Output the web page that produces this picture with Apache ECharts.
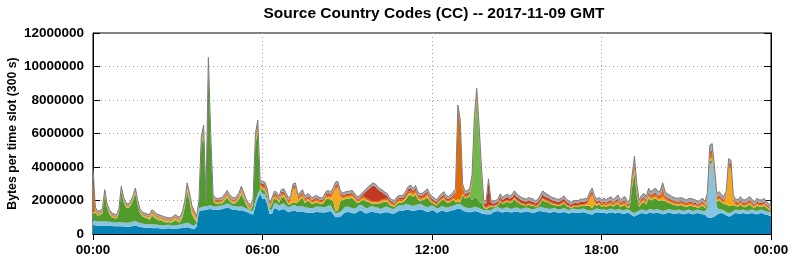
<!DOCTYPE html>
<html><head><meta charset="utf-8">
<script src="https://cdn.jsdelivr.net/npm/echarts@6/dist/echarts.min.js"></script>
<style>html,body{margin:0;padding:0;background:#fff}#c{width:792px;height:259px}</style>
</head><body><div id="c"></div>
<script>
// values in units of 10 000 bytes per 300 s slot, slot i = i*5 minutes (00:00 .. 24:00)
const UNIT = 10000;
const SLOTS_PER_TICK = 72; // 6 hours
const xTickLabels = ['00:00', '06:00', '12:00', '18:00', '00:00'];
const titleText = 'Source Country Codes (CC) -- 2017-11-09 GMT';
const yName = 'Bytes per time slot (300 s)';

const blue = [
52,52,50,50,49,50,50,49,48,47,46,47,
46,45,44,44,45,48,50,46,42,40,38,38,
37,36,35,36,34,33,32,33,34,33,30,32,
33,34,36,38,40,38,32,28,45,135,140,142,
145,148,150,145,143,145,147,150,153,157,153,147,
145,143,140,142,138,133,127,120,117,170,210,240,
210,210,180,120,120,155,150,140,145,150,140,130,
135,140,138,132,135,133,130,128,127,125,128,133,
130,130,128,130,135,138,118,100,102,105,115,128,
132,130,125,123,128,138,140,130,123,127,133,132,
128,128,122,125,130,130,126,122,123,132,138,137,
140,145,145,140,138,140,145,147,143,137,132,135,
144,137,127,132,140,137,132,135,140,142,147,152,
150,142,135,132,130,132,137,135,130,124,120,118,
118,118,130,135,138,132,128,133,135,130,128,133,
135,130,128,132,135,133,128,125,130,135,138,135,
132,130,127,130,133,128,125,128,132,127,123,125,
130,127,125,128,130,128,123,120,115,125,130,128,
125,128,122,125,130,127,123,128,125,120,123,127,
122,110,105,112,120,125,123,118,125,128,122,125,
127,123,118,120,125,127,123,120,122,125,120,118,
122,125,120,118,122,125,120,118,115,100,95,98,
105,115,122,125,120,112,105,108,118,125,122,120,
125,122,118,123,125,120,118,122,125,120,115,112,105];

const lightBlue = [
28,27,26,25,25,26,25,24,23,23,22,23,
24,24,23,23,24,26,27,25,23,22,22,21,
21,22,22,21,20,20,19,20,21,20,19,20,
21,22,24,26,28,25,22,20,22,18,20,22,
22,20,22,20,20,21,22,22,23,25,24,22,
22,21,23,25,22,20,20,20,22,28,30,28,
30,30,28,25,25,30,32,30,32,33,30,28,
30,32,33,30,32,33,30,30,28,28,30,32,
33,32,30,32,33,32,28,25,25,27,30,33,
32,30,30,28,30,33,35,32,30,30,32,33,
32,30,28,30,32,33,30,28,28,30,32,33,
33,35,33,30,30,32,33,33,30,28,28,30,
28,27,25,25,27,26,25,25,26,27,28,28,
27,26,25,25,24,25,26,26,25,24,24,25,
24,23,22,23,24,22,22,23,24,22,22,23,
23,22,22,22,23,22,21,21,22,23,24,23,
23,22,22,22,23,22,21,22,23,22,21,21,
22,21,21,22,22,22,21,22,24,23,22,22,
22,21,20,21,22,21,20,21,21,20,21,21,
20,20,20,21,21,22,21,20,22,22,21,21,
21,20,20,20,21,21,20,20,20,21,20,20,
20,21,20,19,20,21,20,19,20,60,320,330,
220,45,25,22,21,20,20,20,20,22,21,20,
21,20,20,21,21,20,20,21,21,20,20,19,18];

const green = [
35,49,33,38,49,158,78,45,29,26,23,53,
184,123,91,86,99,125,166,101,58,42,38,33,
24,46,41,29,27,24,22,14,11,11,23,27,
17,12,38,94,188,132,64,42,6,11,370,410,
13,800,374,34,16,11,10,12,23,33,17,15,
12,25,41,71,49,21,5,3,35,339,365,6,
22,18,16,8,33,26,24,15,41,38,31,17,
13,16,12,26,39,50,24,40,38,24,25,23,
19,15,25,46,42,35,51,13,11,62,57,46,
48,52,60,51,28,16,23,41,42,34,18,13,
21,21,34,35,29,28,18,16,10,15,17,16,
18,27,50,63,53,63,28,16,28,42,57,31,
14,14,16,29,32,45,32,26,26,36,14,11,
11,65,52,59,69,45,56,59,36,39,13,4,
15,20,7,6,6,39,27,31,34,33,40,51,
35,31,24,17,10,19,20,22,7,7,20,45,
38,37,34,23,16,19,23,22,28,18,17,6,
9,14,14,17,14,17,23,26,13,29,16,27,
15,18,20,22,21,14,30,31,14,28,29,6,
18,150,238,97,19,35,47,38,67,50,65,67,
50,57,60,57,42,35,34,33,26,24,32,28,
19,20,28,26,19,8,22,32,19,29,16,13,
4,33,54,41,37,45,42,39,35,19,19,36,
16,18,31,31,16,14,31,19,14,29,21,15,10];

const lightGreen = [
0,2,3,3,3,3,3,3,2,2,2,3,
3,3,3,3,3,4,4,3,3,3,3,4,
7,9,8,8,8,7,7,8,8,7,7,8,
8,7,8,9,10,9,8,6,5,6,10,25,
5,20,10,6,6,7,6,6,7,8,7,6,
6,6,7,8,7,6,6,5,6,10,10,6,
3,3,2,2,2,2,2,2,3,3,2,2,
2,2,2,2,2,3,2,2,2,2,2,2,
2,2,2,3,3,2,2,2,2,2,2,2,
2,2,2,2,2,2,2,2,2,2,2,2,
2,2,2,2,2,2,2,2,2,2,2,2,
2,3,3,3,2,3,2,2,2,2,3,2,
1,1,1,1,1,1,1,1,1,1,1,2,
2,1,1,2,5,100,420,580,400,170,5,2,
1,1,1,1,1,1,1,1,1,1,1,1,
1,1,1,1,1,1,1,1,1,1,1,1,
1,1,1,1,1,1,1,1,1,1,1,1,
1,1,1,1,1,1,1,1,3,1,1,1,
1,1,1,1,1,1,1,1,1,1,1,1,
1,3,5,3,1,1,1,1,1,1,1,1,
1,1,3,1,1,1,1,1,1,1,1,1,
1,1,1,1,1,1,1,1,1,1,5,5,
1,1,1,1,1,1,1,1,1,1,1,1,
1,1,1,1,1,1,1,1,1,1,1,1,1];

const amber = [
20,6,5,6,6,7,6,6,5,5,5,6,
7,6,6,6,6,7,7,6,6,5,6,6,
8,10,9,8,8,8,7,7,7,7,8,9,
8,7,9,10,12,12,14,16,8,6,8,10,
5,10,8,6,6,6,6,6,7,8,7,6,
6,6,7,9,7,6,5,5,6,10,12,8,
10,10,9,6,7,9,9,8,9,10,9,8,
20,75,85,15,9,10,8,8,8,7,8,8,
7,7,8,9,10,9,40,130,135,30,9,9,
9,9,10,9,8,7,8,9,8,6,6,6,
6,6,6,7,8,8,7,7,7,8,8,8,
8,10,10,11,9,10,8,8,8,9,10,8,
5,4,4,5,5,6,5,5,5,6,8,15,
12,6,5,5,5,6,10,12,10,6,4,4,
4,3,3,3,4,5,4,4,4,4,4,5,
4,4,4,4,3,4,4,3,3,4,4,5,
5,4,4,4,4,3,3,4,4,4,3,3,
3,4,4,4,5,6,10,40,75,15,5,5,
7,8,7,8,8,7,8,9,7,8,8,6,
7,10,12,10,7,8,9,8,10,9,9,10,
9,10,20,9,8,8,7,7,7,7,7,7,
7,7,7,7,7,6,7,7,6,10,12,12,
10,8,9,8,8,40,230,220,20,8,7,8,
7,7,7,8,7,6,7,7,7,7,6,6,5];

const orange = [
230,8,5,5,5,6,5,5,5,4,4,5,
6,5,5,5,5,6,6,5,5,5,5,5,
5,6,6,5,5,5,5,5,5,5,5,6,
5,5,6,7,10,12,14,14,6,8,12,15,
6,25,15,8,8,7,8,8,9,10,9,8,
8,8,9,11,9,8,7,7,8,20,25,12,
15,14,12,8,9,11,11,10,12,12,11,10,
10,12,12,10,11,12,10,10,10,9,10,10,
9,9,10,11,12,11,12,14,14,11,10,10,
10,10,11,10,9,9,10,11,10,8,8,8,
8,8,8,9,10,10,9,9,9,10,10,10,
10,12,13,13,11,12,10,10,10,11,12,10,
8,7,7,8,8,9,8,8,8,9,40,520,
440,30,9,9,9,10,15,18,14,9,7,7,
10,6,6,6,7,8,7,7,7,7,7,8,
7,7,7,6,6,7,7,6,6,7,8,9,
8,8,7,7,7,6,6,7,7,7,6,6,
6,6,6,7,7,7,8,10,12,8,7,7,
9,10,9,10,11,9,10,12,9,10,11,8,
9,20,40,20,9,10,11,10,13,11,12,13,
11,12,40,11,10,10,9,9,9,9,9,9,
8,9,9,9,8,8,9,9,8,15,30,30,
20,10,11,10,9,12,15,15,9,9,8,10,
9,9,9,10,9,8,9,9,9,9,8,7,6];

const red = [
15,4,3,3,3,3,3,3,3,3,3,3,
3,3,3,3,3,3,3,3,3,3,3,3,
3,4,3,3,3,3,3,3,3,3,3,3,
3,3,3,4,5,5,5,4,3,4,6,8,
4,12,6,4,4,4,4,4,5,5,5,4,
4,4,5,5,5,4,4,4,4,8,10,6,
10,10,9,6,7,8,8,7,9,9,8,7,
7,8,8,7,8,9,8,8,8,7,8,8,
7,7,8,9,10,9,9,10,10,9,8,8,
8,8,9,8,7,7,8,15,40,60,80,95,
85,70,55,40,25,15,10,8,8,9,9,10,
10,12,14,15,12,14,10,10,10,11,12,10,
10,10,9,10,11,12,11,10,11,12,14,20,
18,13,12,12,12,14,16,18,15,12,12,20,
140,20,12,12,13,16,14,15,16,15,16,18,
17,16,15,15,14,15,15,14,13,14,16,18,
17,16,15,14,14,13,13,14,15,13,12,11,
12,12,12,13,13,13,13,14,15,13,12,12,
8,8,8,8,9,8,8,9,8,8,9,7,
8,12,15,12,8,9,9,8,10,9,10,10,
9,10,15,9,9,9,8,8,8,8,8,8,
8,8,8,8,8,7,8,8,7,10,12,12,
10,8,9,8,8,10,12,12,8,8,8,9,
8,8,8,9,8,7,8,8,8,8,7,7,6];

const gray = [
10,12,10,10,10,12,10,10,10,10,10,10,
12,11,10,10,10,11,12,11,10,10,10,10,
10,12,11,10,10,10,10,10,9,9,10,10,
10,10,11,12,12,12,11,10,10,12,14,18,
10,20,15,12,12,11,12,12,13,14,13,12,
12,12,13,14,13,12,11,11,12,15,18,14,
15,15,14,10,12,14,14,13,14,15,14,13,
13,15,15,13,14,15,13,14,14,13,14,14,
13,13,14,15,15,14,15,16,16,14,14,14,
14,14,15,14,13,13,14,15,15,16,16,16,
16,15,15,14,14,14,13,13,13,14,14,14,
14,16,17,17,15,16,14,14,14,15,16,14,
15,15,14,15,16,17,16,15,16,17,18,22,
20,17,16,16,16,18,20,22,20,16,15,15,
18,14,14,14,15,17,15,16,17,16,17,19,
18,17,17,16,16,17,17,16,16,17,19,22,
21,20,18,17,17,16,16,17,18,16,15,15,
15,15,15,16,16,16,16,17,18,16,15,16,
18,19,18,20,21,18,20,22,18,20,21,17,
18,25,30,25,18,20,22,20,25,23,25,26,
25,27,30,26,24,22,21,20,20,20,20,19,
18,19,20,19,18,17,18,19,17,25,40,40,
30,20,22,20,19,20,25,25,19,18,17,19,
18,18,19,20,18,17,19,18,18,19,17,16,14];

const layers = [
  { name: 'CC 1', values: blue,       color: '#0381b2' },
  { name: 'CC 2', values: lightBlue,  color: '#88c4e2' },
  { name: 'CC 3', values: green,      color: '#4f9b2c' },
  { name: 'CC 4', values: lightGreen, color: '#72b94b' },
  { name: 'CC 5', values: amber,      color: '#f6a81c' },
  { name: 'CC 6', values: orange,     color: '#e46c04' },
  { name: 'CC 7', values: red,        color: '#c03a24' },
  { name: 'CC 8', values: gray,       color: '#a6a6a6' }
];

const slots = blue.map((_, i) => i);
const FONT = 'Liberation Sans, Arial, sans-serif';
const chart = echarts.init(document.getElementById('c'), null, { renderer: 'canvas' });
const gridLine = { show: true, interval: SLOTS_PER_TICK - 1, lineStyle: { color: '#a0a0a0', width: 1, type: [1, 3] } };
const tickEvery = { show: true, inside: true, length: 6, interval: SLOTS_PER_TICK - 1, lineStyle: { color: '#000' } };

chart.setOption({
  animation: false,
  backgroundColor: '#fff',
  title: {
    text: titleText, left: 429, top: 1, textAlign: 'center',
    textStyle: { fontFamily: FONT, fontWeight: 'bold', fontSize: 15.5, color: '#000' }
  },
  grid: { left: 93, right: 21, top: 33, bottom: 25, containLabel: false, outerBoundsMode: 'none',
    show: true, borderColor: '#000', borderWidth: 1, backgroundColor: 'transparent' },
  xAxis: [{
    type: 'category', data: slots, boundaryGap: false, position: 'bottom',
    axisLine: { show: true, lineStyle: { color: '#000', width: 1 } },
    axisTick: tickEvery,
    axisLabel: { interval: SLOTS_PER_TICK - 1, margin: 9, fontFamily: FONT, fontWeight: 'bold', fontSize: 13.5, color: '#000',
      formatter: (v, idx) => xTickLabels[Math.round(idx / SLOTS_PER_TICK)] },
    splitLine: gridLine
  }, {
    type: 'category', data: slots, boundaryGap: false, position: 'top',
    axisLine: { show: true, lineStyle: { color: '#000', width: 1 } },
    axisTick: tickEvery,
    axisLabel: { show: false }, splitLine: { show: false }
  }],
  yAxis: [{
    type: 'value', min: 0, max: 12000000, interval: 2000000, position: 'left',
    name: yName, nameLocation: 'middle', nameGap: 74, nameRotate: 90, nameMoveOverlap: false,
    nameTextStyle: { fontFamily: FONT, fontWeight: 'bold', fontSize: 12.3, color: '#000' },
    axisLine: { show: true, lineStyle: { color: '#000', width: 1 } },
    axisTick: { show: true, inside: true, length: 7, lineStyle: { color: '#000' } },
    axisLabel: { margin: 9, fontFamily: FONT, fontWeight: 'bold', fontSize: 13.5, color: '#000', formatter: v => String(v) },
    splitLine: { show: true, lineStyle: { color: '#a0a0a0', width: 1, type: [1, 3] } }
  }, {
    type: 'value', min: 0, max: 12000000, interval: 2000000, position: 'right',
    axisLine: { show: true, lineStyle: { color: '#000', width: 1 } },
    axisTick: { show: true, inside: true, length: 7, lineStyle: { color: '#000' } },
    axisLabel: { show: false }, splitLine: { show: false }
  }],
  series: layers.map((l, k) => ({
    type: 'line', name: l.name, stack: 'total', xAxisIndex: 0, yAxisIndex: 0,
    data: l.values.map(v => v * UNIT),
    showSymbol: false, symbol: 'none', smooth: false,
    lineStyle: k === layers.length - 1 ? { color: '#7c7c7c', width: 1 } : { width: 0 },
    areaStyle: { color: l.color, opacity: 1 },
    itemStyle: { color: l.color }
  }))
});
</script></body></html>
